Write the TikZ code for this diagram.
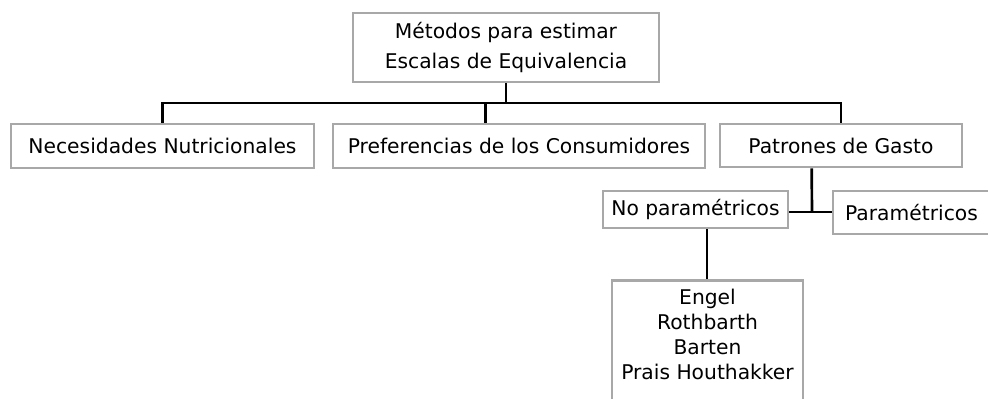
\documentclass[tikz,border=0pt]{standalone}
\usepackage{fontspec}
\setmainfont{DejaVu Sans}
\usetikzlibrary{calc}
\definecolor{boxgray}{RGB}{168,168,168}
\pgfdeclarelayer{bg}
\pgfsetlayers{bg,main}
\begin{document}
\begin{tikzpicture}[x=0.75pt,y=-0.75pt,
  box/.style={draw=boxgray,line width=1.9pt,fill=white,inner sep=0pt,align=center,font=\fontsize{15.2}{18.75}\selectfont},
  txt/.style={inner sep=0pt,align=center,font=\fontsize{15.2}{18.75}\selectfont},
  link/.style={draw=black,line width=2pt}]
\useasboundingbox (0,0) rectangle (988,399);
\clip (0,0) rectangle (988,399);
\node[box,minimum width=229.5pt,minimum height=51.75pt,font=\fontsize{15.2}{22.5}\selectfont] (top) at (506,47.5) {Métodos para estimar\\Escalas de Equivalencia};
\node[box,minimum width=227.25pt,minimum height=33pt] (nec) at (162.5,146) {Necesidades Nutricionales};
\node[box,minimum width=279pt,minimum height=33pt] (pref) at (519,146) {Preferencias de los Consumidores};
\node[box,minimum width=181.5pt,minimum height=32.25pt] (pat) at (841,145.5) {Patrones de Gasto};
\node[box,minimum width=138.75pt,minimum height=27.75pt] (nopar) at (695.5,209.5) {No paramétricos};
\node[box,minimum width=117.75pt,minimum height=32.25pt] (par) at (911.5,212.5) {Paramétricos};
\node[box,minimum width=143.25pt,minimum height=98.25pt,anchor=north] (engel) at (707.5,279) {};
\node[txt] (engeltxt) at (707.5,334.5) {Engel\\Rothbarth\\Barten\\Prais Houthakker};
\begin{pgfonlayer}{bg}
\coordinate (bus) at (506,103);
\draw[link] (top.south) -- (top.south |- bus);
\draw[link] (nec.north) -- (nec.north |- bus) -- (pat.north |- bus) -- (pat.north);
\coordinate (prefin) at ($(pref.north west)!0.411!(pref.north east)$);
\draw[link] (prefin |- bus) -- (prefin);
\coordinate (patout) at ($(pat.south west)!0.38!(pat.south east)$);
\coordinate (split) at (812,212);
\draw[link] (patout) -- (split);
\draw[link] (nopar.east |- split) -- (par.west |- split);
\coordinate (npout) at ($(nopar.south west)!0.562!(nopar.south east)$);
\draw[link] (npout) -- (npout |- engel.north);
\end{pgfonlayer}
\end{tikzpicture}
\end{document}
